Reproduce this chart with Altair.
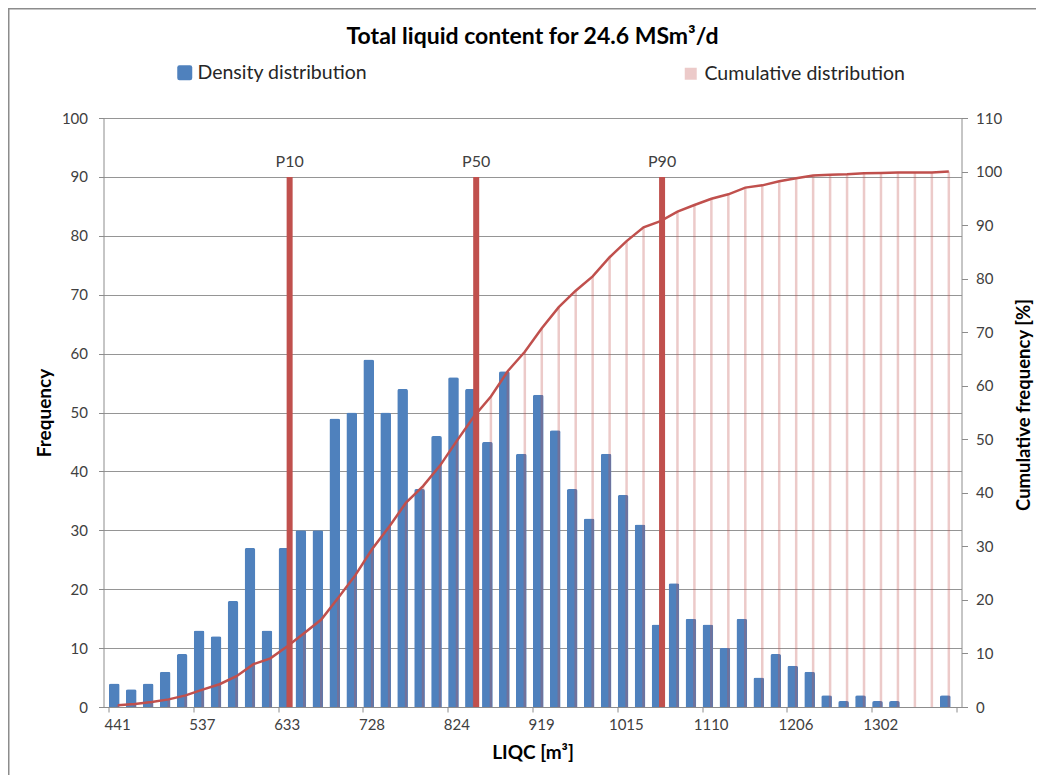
import altair as alt
import pandas as pd

# ---- data ----
counts = [4, 3, 4, 6, 9, 13, 12, 18, 27, 13,
          27, 30, 30, 49, 50, 59, 50, 54, 37, 46,
          56, 54, 45, 57, 43, 53, 47, 37, 32, 43,
          36, 31, 14, 21, 15, 14, 10, 15, 5, 9,
          7, 6, 2, 1, 2, 1, 1, 0, 0, 2]
cumulative = [0.33, 0.58, 0.92, 1.42, 2.17, 3.25, 4.25, 5.75, 8.0, 9.08,
              11.33, 13.83, 16.33, 20.42, 24.58, 29.5, 33.67, 38.17, 41.25, 45.08,
              49.75, 54.25, 58.0, 62.75, 66.33, 70.75, 74.67, 77.75, 80.42, 84.0,
              87.0, 89.58, 90.75, 92.5, 93.75, 94.92, 95.75, 97.0, 97.42, 98.17,
              98.75, 99.25, 99.42, 99.5, 99.67, 99.75, 99.83, 99.83, 99.83, 100.0]
tick_labels = ["441", "537", "633", "728", "824", "919", "1015", "1110", "1206", "1302"]
label_step = 5
p_labels = ["P10", "P50", "P90"]
p_positions = [10.18, 21.18, 32.14]
p_top = [90, 90, 90]

title_text = "Total liquid content for 24.6 MSm³/d"
series_names = ["Density distribution", "Cumulative distribution"]

BLUE = "#4f81bd"
RED = "#c0504d"
GRAY = "#8c8c8c"
TXT = "#404040"
FONT = "Lato"

W, H = 858, 589
n = len(counts)
band = W / n

df = pd.DataFrame({
    "bin": list(range(n)),
    "count": counts,
    "cum": cumulative,
    "s1": series_names[0],
    "s2": series_names[1],
})
pdf = pd.DataFrame({"pos": p_positions, "top": p_top, "lab": p_labels, "base": [0] * 3})

xs = alt.Scale(domain=[-0.5, n - 0.5], nice=False, zero=False)
ys1 = alt.Scale(domain=[0, 100], nice=False)
ys2 = alt.Scale(domain=[0, 110], nice=False)

# ticks sit on category boundaries, labels on the category centres
boundaries = [i - 0.5 for i in range(0, n + 1, label_step)]
label_js = "[" + ",".join("'%s'" % t for t in tick_labels) + "]"
x_axis = alt.Axis(
    values=boundaries,
    labelExpr=f"{label_js}[round((datum.value + 0.5) / {label_step})] || ''",
    labelOffset=band / 2,
    labelFlush=False, labelOverlap=False, labelBound=False,
    ticks=True, tickSize=5, tickColor=GRAY,
    domainColor=GRAY, grid=False, orient="bottom",
    labelFont=FONT, labelFontSize=15, labelColor=TXT, labelPadding=5,
    title="LIQC [m³]", titleFont=FONT, titleFontSize=19, titleFontWeight="bold",
    titleColor="black", titlePadding=11,
)
left_axis = alt.Axis(
    values=list(range(0, 101, 10)), orient="left",
    grid=True, gridColor="#959595", gridWidth=1,
    domainColor=GRAY, tickColor=GRAY, tickSize=5,
    labelFont=FONT, labelFontSize=15, labelColor=TXT, labelPadding=11,
    title="Frequency", titleFont=FONT, titleFontSize=19, titleFontWeight="bold",
    titleColor="black", titlePadding=7,
)
right_axis = alt.Axis(
    values=list(range(0, 111, 10)), orient="right",
    grid=False, domainColor=GRAY, tickColor=GRAY, tickSize=6,
    labelFont=FONT, labelFontSize=15, labelColor=TXT, labelPadding=8,
    title="Cumulative frequency [%]", titleFont=FONT, titleFontSize=18.5,
    titleFontWeight="bold", titleColor="black", titleAngle=270,
    titleBaseline="top", titlePadding=13, titleY=H / 2 - 8,
)

rounded_sq = "M-1,-0.7 Q-1,-1 -0.7,-1 L0.7,-1 Q1,-1 1,-0.7 L1,0.7 Q1,1 0.7,1 L-0.7,1 Q-1,1 -1,0.7 Z"

base = alt.Chart(df)

blue = base.mark_bar(width=10.7, xOffset=-2.7, cornerRadiusTopLeft=2,
                     cornerRadiusTopRight=2).encode(
    x=alt.X("bin:Q", scale=xs, axis=x_axis),
    y=alt.Y("count:Q", scale=ys1, axis=left_axis),
    color=alt.Color("s1:N", scale=alt.Scale(domain=[series_names[0]], range=[BLUE]),
                    legend=alt.Legend(orient="none", legendX=71.5, legendY=-55,
                                      title=None, symbolType=rounded_sq,
                                      symbolSize=225, symbolStrokeWidth=0,
                                      labelFont=FONT, labelFontSize=19.5,
                                      labelLimit=400,
                                      labelColor="#262626", labelOffset=3,
                                      padding=0)),
)

pink = base.mark_bar(width=2.5, xOffset=0.8, opacity=0.3, color=RED).encode(
    x=alt.X("bin:Q", scale=xs, axis=x_axis),
    y=alt.Y("cum:Q", scale=ys2, axis=right_axis),
    color=alt.Color("s2:N", scale=alt.Scale(domain=[series_names[1]], range=[RED]),
                    legend=alt.Legend(orient="none", legendX=577.5, legendY=-54,
                                      title=None, symbolType="square",
                                      symbolSize=144, symbolOpacity=0.3,
                                      symbolStrokeWidth=0,
                                      labelFont=FONT, labelFontSize=19.5,
                                      labelLimit=400,
                                      labelColor="#262626", labelOffset=4,
                                      padding=0)),
)

line = base.mark_line(color=RED, strokeWidth=2.5, xOffset=0.8).encode(
    x=alt.X("bin:Q", scale=xs, axis=x_axis),
    y=alt.Y("cum:Q", scale=ys2, axis=None),
)

prule = alt.Chart(pdf).mark_rule(color=RED, strokeWidth=6).encode(
    x=alt.X("pos:Q", scale=xs, axis=x_axis),
    y=alt.Y("top:Q", scale=ys1, axis=None),
    y2="base:Q",
)
ptext = alt.Chart(pdf).mark_text(dy=-10, baseline="alphabetic", align="center",
                                 font=FONT, fontSize=16, color=TXT).encode(
    x=alt.X("pos:Q", scale=xs, axis=x_axis),
    y=alt.Y("top:Q", scale=ys1, axis=None),
    text="lab:N",
)

one = alt.Data(values=[{}])
title = alt.Chart(one).mark_text(text=title_text, font=FONT, fontSize=23,
                                 fontWeight="bold", color="black",
                                 align="center", baseline="alphabetic").encode(
    x=alt.value(W / 2), y=alt.value(-74),
)
# outer chart frame (left and top edges visible, the rest runs off the page)
border = alt.Chart(one).mark_rect(fill="transparent", stroke=GRAY,
                                  strokeWidth=1.5).encode(
    x=alt.value(-94.75), x2=alt.value(980), y=alt.value(-109.25), y2=alt.value(720),
)

chart = alt.layer(border, blue, pink, line, prule, ptext, title).resolve_scale(
    y="independent", color="independent"
).properties(
    width=W, height=H,
    autosize=alt.AutoSizeParams(type="none"),
    padding={"left": 95.5, "top": 110, "right": 74.5, "bottom": 68},
    background="white",
).configure_view(stroke=None)

chart.save("out.html", embed_options={"renderer": "svg", "actions": False})
